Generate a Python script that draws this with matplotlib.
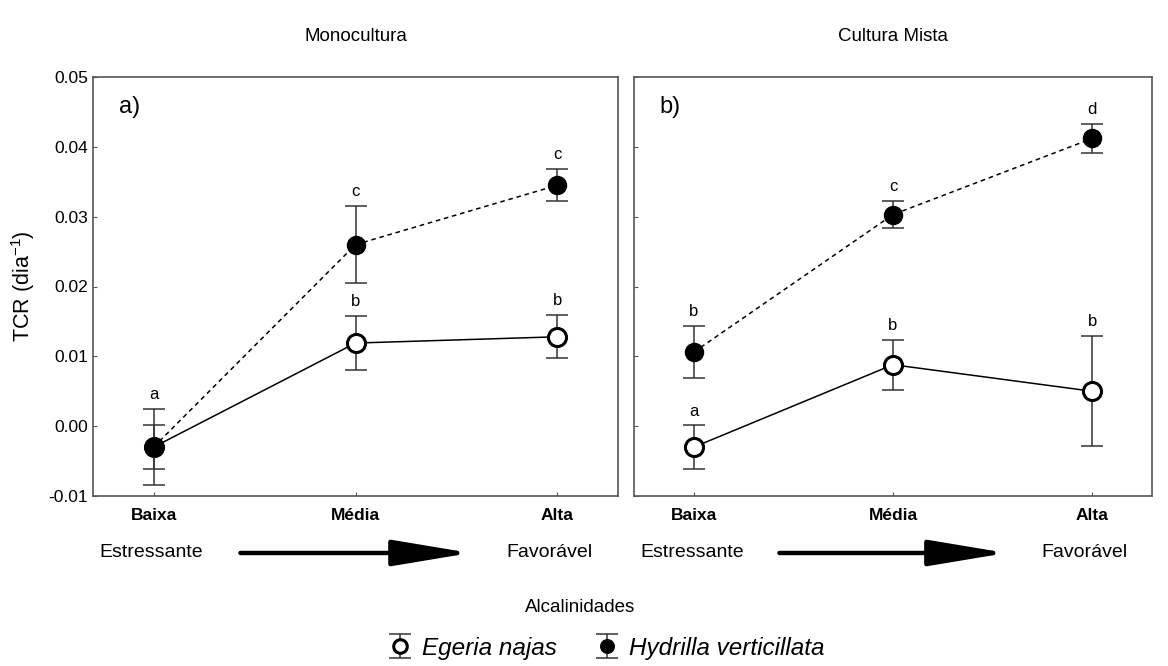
import matplotlib.pyplot as plt
import matplotlib.transforms as mtransforms

plt.rcParams['font.family'] = ['Liberation Sans', 'DejaVu Sans']
plt.rcParams['axes.unicode_minus'] = False
plt.rcParams['mathtext.fontset'] = 'custom'
plt.rcParams['mathtext.rm'] = 'Liberation Sans'

niveis = ["Baixa", "Média", "Alta"]
x = [0, 1, 2]

# Monocultura
egeria_mono = [-0.0030, 0.0119, 0.0128]
egeria_mono_ep = [0.0032, 0.0039, 0.0031]
hydrilla_mono = [-0.0030, 0.0260, 0.0345]
hydrilla_mono_ep = [0.0054, 0.0055, 0.0023]
letras_egeria_mono = ["", "b", "b"]
letras_hydrilla_mono = ["a", "c", "c"]

# Cultura mista
egeria_mista = [-0.0030, 0.0088, 0.0050]
egeria_mista_ep = [0.0031, 0.0036, 0.0079]
hydrilla_mista = [0.0106, 0.0303, 0.0412]
hydrilla_mista_ep = [0.0037, 0.0019, 0.0021]
letras_egeria_mista = ["a", "b", "b"]
letras_hydrilla_mista = ["b", "c", "d"]

fig = plt.figure(figsize=(11.68, 6.66), dpi=100)
ax1 = fig.add_axes([93/1168, 170/666, 525/1168, 419/666])
ax2 = fig.add_axes([634/1168, 170/666, 518/1168, 419/666])


def painel(ax, ye, ee, yh, eh, le, lh, tag, titulo):
    ax.plot(x, ye, color='black', lw=1.1, zorder=2)
    ax.plot(x, yh, color='black', lw=1.1, ls=(0, (3, 2.5)), zorder=2)
    eg = ax.errorbar(x, ye, yerr=ee, fmt='o', ms=13, mfc='white', mec='black',
                     ecolor='#333333', elinewidth=1.1, capsize=8,
                     capthick=1.1, zorder=3, label='Egeria najas')
    eg.lines[0].set_markeredgewidth(2.2)
    hy = ax.errorbar(x, yh, yerr=eh, fmt='o', ms=13, mfc='black', mec='black',
                     ecolor='#333333', elinewidth=1.1, capsize=8,
                     capthick=1.1, zorder=4, label='Hydrilla verticillata')
    for xi, yi, ei, l in zip(x, ye, ee, le):
        if l:
            ax.annotate(l, (xi, yi + ei), xytext=(0, 5), textcoords='offset points',
                        ha='center', va='bottom', fontsize=12)
    for xi, yi, ei, l in zip(x, yh, eh, lh):
        if l:
            ax.annotate(l, (xi, yi + ei), xytext=(0, 5), textcoords='offset points',
                        ha='center', va='bottom', fontsize=12)

    ax.set_xlim(-0.3, 2.3)
    ax.set_ylim(-0.01, 0.05)
    ax.set_xticks(x)
    ax.set_xticklabels(niveis, fontsize=14.5, fontweight='bold')
    ax.set_yticks([-0.01, 0.0, 0.01, 0.02, 0.03, 0.04, 0.05])
    ax.tick_params(direction='in', length=3, width=0.8, labelsize=12.5, color='#555555')
    ax.tick_params(axis='x', pad=9)
    for s in ax.spines.values():
        s.set_color('#555555')
        s.set_linewidth(1.2)
    ax.text(0.05, 0.955, tag, transform=ax.transAxes, fontsize=17, va='top')
    ax.set_title(titulo, fontsize=13.5, pad=26)

    # gradiente de alcalinidade abaixo do eixo
    trans = mtransforms.blended_transform_factory(ax.transData, ax.transAxes)
    ax.text(-0.27, -0.136, "Estressante", transform=trans, fontsize=14,
            ha='left', va='center')
    ax.text(1.96, -0.136, "Favorável", transform=trans, fontsize=14,
            ha='center', va='center')
    ax.annotate('', xy=(1.57, -0.136), xytext=(0.43, -0.136), xycoords=trans,
                textcoords=trans, annotation_clip=False,
                arrowprops=dict(arrowstyle='-|>,head_length=2.4,head_width=0.4',
                                lw=3.2, color='black', mutation_scale=20,
                                shrinkA=0, shrinkB=0))
    return eg, hy


eg, hy = painel(ax1, egeria_mono, egeria_mono_ep, hydrilla_mono, hydrilla_mono_ep,
                letras_egeria_mono, letras_hydrilla_mono, "a)", "Monocultura")
painel(ax2, egeria_mista, egeria_mista_ep, hydrilla_mista, hydrilla_mista_ep,
       letras_egeria_mista, letras_hydrilla_mista, "b)", "Cultura Mista")
ax2.set_yticklabels([])

ax1.set_ylabel("TCR (dia$^{-1}$)", fontsize=15.5, labelpad=8)
fig.text(0.497, 1 - 608/666, "Alcalinidades", fontsize=13.5, ha='center', va='center')
fig.legend([eg, hy], ["Egeria najas", "Hydrilla verticillata"], loc='center',
           bbox_to_anchor=(0.519, 1 - 648/666), ncol=2, frameon=False,
           prop={'style': 'italic', 'size': 17.5}, markerscale=0.75,
           handlelength=1.0, handletextpad=0.4, columnspacing=1.6)

fig.savefig("out.png", dpi=100)
